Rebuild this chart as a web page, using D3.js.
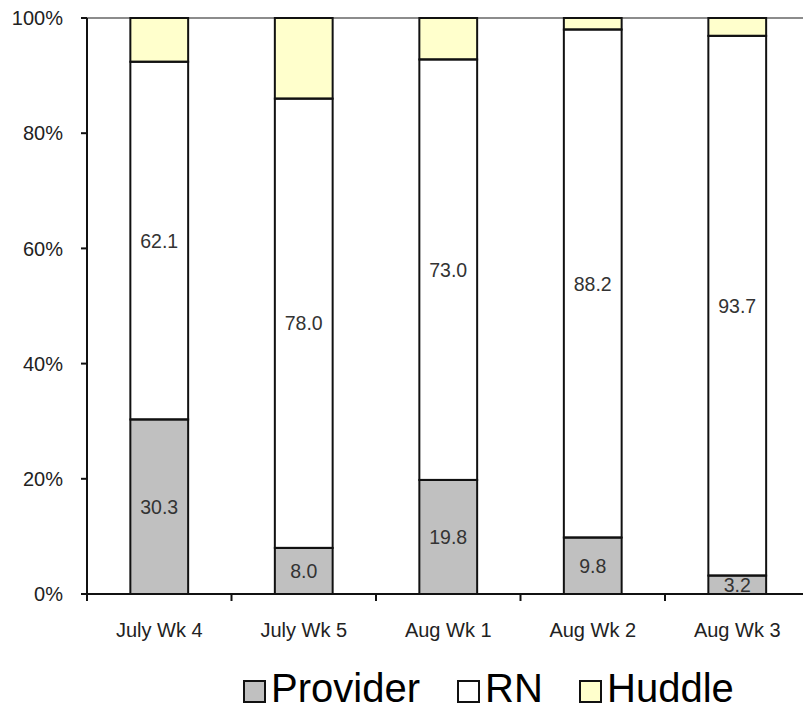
<!DOCTYPE html>
<html>
<head>
<meta charset="utf-8">
<script src="https://cdn.jsdelivr.net/npm/d3@7"></script>
<style>
  html, body { margin: 0; padding: 0; background: #fff; }
  svg { display: block; font-family: "Liberation Sans", Arial, sans-serif; }
</style>
</head>
<body>
<svg id="chart" width="803" height="709"></svg>
<script>
// Weekly share of each huddle component (percent of total)
const categories = ["July Wk 4", "July Wk 5", "Aug Wk 1", "Aug Wk 2", "Aug Wk 3"];
const seriesNames = ["Provider", "RN", "Huddle"];
const provider = [30.3, 8.0, 19.8, 9.8, 3.2];
const rn = [62.1, 78.0, 73.0, 88.2, 93.7];
const huddle = [7.6, 14.0, 7.2, 2.0, 3.1];
const yTicks = [0, 20, 40, 60, 80, 100];
const colors = { Provider: "#C0C0C0", RN: "#FFFFFF", Huddle: "#FFFFCC" };

const rows = categories.map((c, i) => ({ cat: c, Provider: provider[i], RN: rn[i], Huddle: huddle[i] }));
const stacked = d3.stack().keys(seriesNames)(rows);

const svg = d3.select("#chart");
const plotLeft = 87, plotTop = 18, plotBottom = 594, plotRight = 809.5;

const xOuter = d3.scaleBand().domain(categories).range([plotLeft, plotRight]).padding(0);
const x = d3.scaleBand().domain(categories).range([plotLeft, plotRight]).paddingInner(0.6).paddingOuter(0.3);
const y = d3.scaleLinear().domain([0, 100]).range([plotBottom, plotTop]);

// top border of the plot area
svg.append("line")
  .attr("x1", plotLeft).attr("x2", 803).attr("y1", y(100)).attr("y2", y(100))
  .attr("stroke", "#8c8c8c").attr("stroke-width", 2);

// bar fills
const layers = svg.append("g");
stacked.forEach(layer => {
  layers.selectAll(null).data(layer).enter().append("rect")
    .attr("x", d => x(d.data.cat))
    .attr("width", x.bandwidth())
    .attr("y", d => y(d[1]))
    .attr("height", d => y(d[0]) - y(d[1]))
    .attr("fill", colors[layer.key]);
});

// value labels for Provider and RN segments
const labelG = svg.append("g")
  .attr("font-size", 19.5).attr("fill", "#333").attr("text-anchor", "middle");
stacked.filter(l => l.key !== "Huddle").forEach(layer => {
  labelG.selectAll(null).data(layer).enter().append("text")
    .attr("x", d => x(d.data.cat) + x.bandwidth() / 2)
    .attr("y", d => y((d[0] + d[1]) / 2))
    .attr("dy", "0.36em")
    .text(d => (d[1] - d[0]).toFixed(1));
});

// bar outlines
stacked.forEach(layer => {
  svg.append("g").selectAll(null).data(layer).enter().append("rect")
    .attr("x", d => x(d.data.cat))
    .attr("width", x.bandwidth())
    .attr("y", d => y(d[1]))
    .attr("height", d => y(d[0]) - y(d[1]))
    .attr("fill", "none")
    .attr("stroke", "#111").attr("stroke-width", 2);
});

// y axis
const yAxis = svg.append("g");
yAxis.append("line").attr("x1", plotLeft).attr("x2", plotLeft).attr("y1", plotTop).attr("y2", plotBottom)
  .attr("stroke", "#111").attr("stroke-width", 2);
yAxis.selectAll(".yt").data(yTicks).enter().append("line")
  .attr("x1", plotLeft - 6).attr("x2", plotLeft).attr("y1", d => y(d)).attr("y2", d => y(d))
  .attr("stroke", "#111").attr("stroke-width", 2);
yAxis.selectAll(".yl").data(yTicks).enter().append("text")
  .attr("x", 63).attr("y", d => y(d)).attr("dy", "0.36em")
  .attr("text-anchor", "end").attr("font-size", 20).attr("fill", "#222")
  .text(d => d + "%");

// x axis
const xAxis = svg.append("g");
xAxis.append("line").attr("x1", plotLeft).attr("x2", 803).attr("y1", plotBottom).attr("y2", plotBottom)
  .attr("stroke", "#111").attr("stroke-width", 2);
xAxis.selectAll(".xt").data(categories).enter().append("line")
  .attr("x1", d => xOuter(d)).attr("x2", d => xOuter(d))
  .attr("y1", plotBottom).attr("y2", plotBottom + 7)
  .attr("stroke", "#111").attr("stroke-width", 2);
xAxis.selectAll(".xl").data(categories).enter().append("text")
  .attr("x", d => xOuter(d) + xOuter.bandwidth() / 2)
  .attr("y", 637)
  .attr("text-anchor", "middle").attr("font-size", 20)
  .attr("fill", "#222")
  .text(d => d);

// legend
const legendX = { Provider: 244, RN: 458, Huddle: 580 };
const lg = svg.append("g");
seriesNames.forEach(name => {
  lg.append("rect")
    .attr("x", legendX[name]).attr("y", 681).attr("width", 21).attr("height", 21)
    .attr("fill", colors[name]).attr("stroke", "#111").attr("stroke-width", 2);
  lg.append("text")
    .attr("x", legendX[name] + 27).attr("y", 702)
    .attr("font-size", 40).attr("fill", "#000")
    .text(name);
});
</script>
</body>
</html>
